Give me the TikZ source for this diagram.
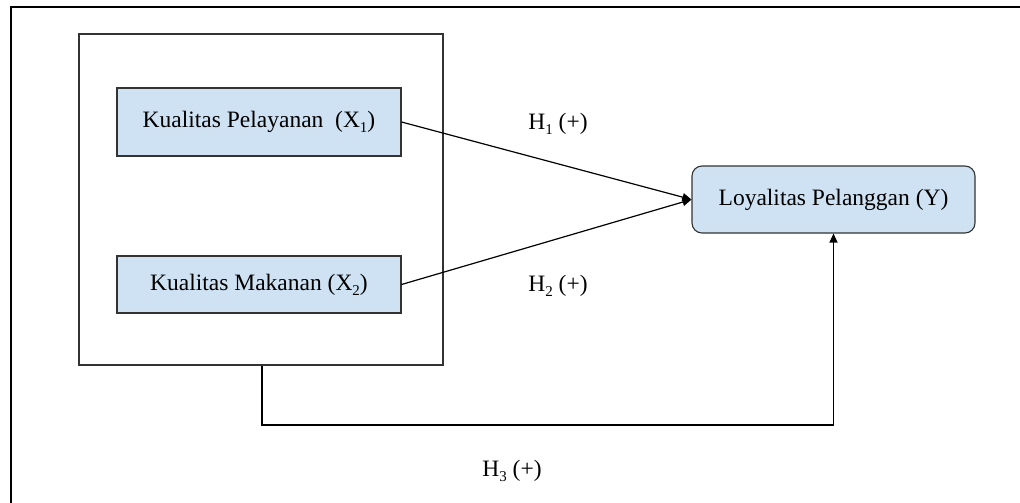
\documentclass[tikz,border=0pt]{standalone}
\usepackage{fontspec}
\setmainfont{Liberation Serif}
\usetikzlibrary{arrows.meta}
\definecolor{boxfill}{HTML}{CFE2F3}
\definecolor{boxline}{HTML}{333333}
% lowered index, as in X_1 or H_1
\newcommand{\lowidx}[1]{\raisebox{-5pt}{\fontsize{15}{17}\selectfont #1}}
\begin{document}
\begin{tikzpicture}[x=1pt,y=-1pt,
  every node/.style={font=\fontsize{23.5}{28}\selectfont},
  varbox/.style={draw=boxline,line width=1.1pt,fill=boxfill,inner sep=0pt,
    minimum width=284pt,minimum height=68pt},
  outbox/.style={varbox,rounded corners=10pt,minimum width=283pt,minimum height=67pt},
  frame/.style={draw=boxline,line width=1.1pt},
  link/.style={draw=black,line width=1.2pt,-{Triangle[length=9pt,width=8pt]}},
  hyp/.style={inner sep=0pt}]
\useasboundingbox (0,0) rectangle (1020,503);
% outer frame, open towards the right and bottom
\draw[frame,draw=black,line width=1.4pt] (11,503) -- (11,7) -- (1020,7);
% group of the two independent variables
\node[frame,inner sep=0pt,minimum width=364pt,minimum height=331pt] (grp) at (261,199.5) {};
\node[varbox] (x1) at (259,122) {Kualitas Pelayanan~ (X\lowidx{1})};
\node[varbox,minimum height=57pt] (x2) at (259,284.5) {Kualitas Makanan (X\lowidx{2})};
\node[outbox] (ly) at (833.5,199.5) {Loyalitas Pelanggan (Y)};
% hypothesis paths
\draw[link] (x1.east) -- (ly.west);
\draw[link] (x2.east) -- (ly.west);
\coordinate (bend) at (262,425);
\draw[link] (grp.south -| bend) -- (bend) -| (ly.south);
\node[hyp] (h1) at (558,124) {H\lowidx{1} (+)};
\node[hyp] (h2) at (558,286) {H\lowidx{2} (+)};
\node[hyp] (h3) at (512,471) {H\lowidx{3} (+)};
\end{tikzpicture}
\end{document}
